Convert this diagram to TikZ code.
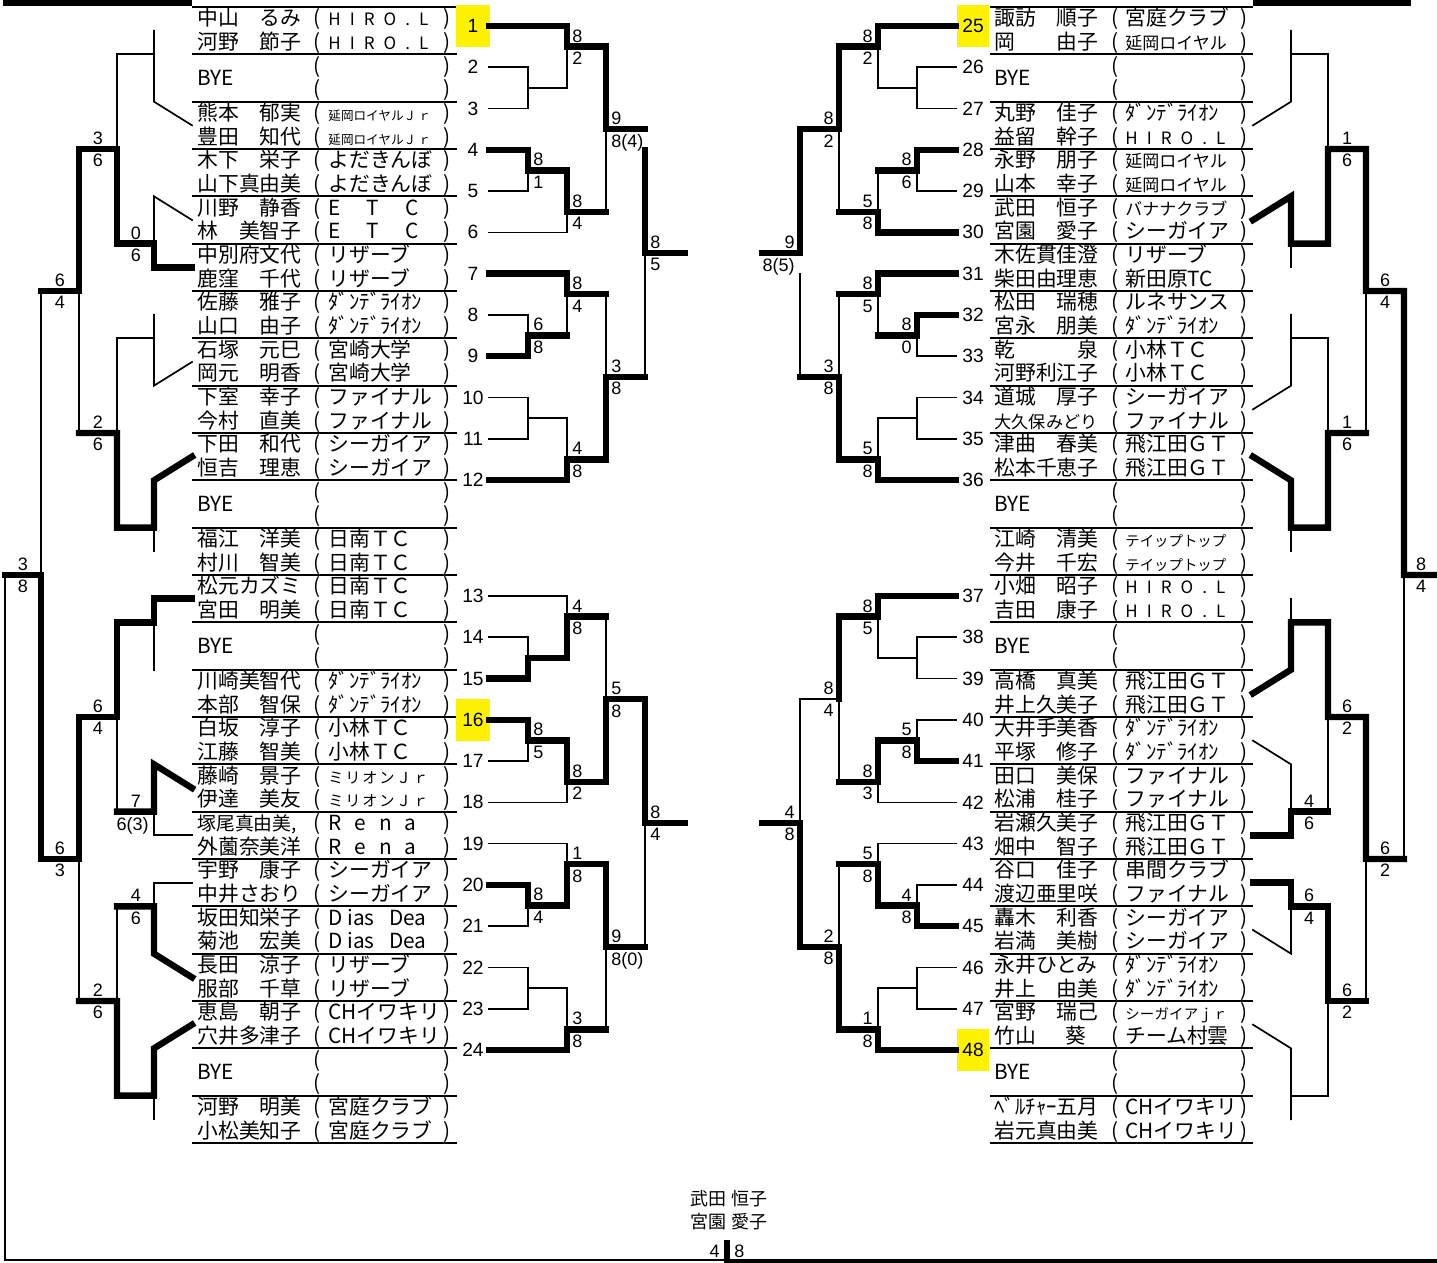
\documentclass[tikz,border=0pt]{standalone}
\usepackage{fontspec}
\setmainfont{Liberation Sans}
\newfontfamily\jp{Noto Sans CJK JP}
\newcounter{scn}
% team names that are spread or set small
\newcommand\tmspread[2]{\makebox[#1][s]{#2}}
\newcommand\tmhiro{{\fontsize{8.5}{9}\selectfont\tmspread{50pt}{H\hfill I\hfill R\hfill O\hfill .\hfill L}}}
\newcommand\tmetc{\tmspread{45pt}{E\hfill T\hfill C}}
\newcommand\tmrena{\tmspread{44pt}{R\hfill e\hfill n\hfill a}}
\newcommand\tmdias{\tmspread{49pt}{D ias\hfill Dea}}
\newcommand\tmjr{{\fontsize{6.3}{7}\selectfont 延岡ロイヤルＪ\,ｒ}}
\newcommand\tmmil{{\fontsize{7.6}{8}\selectfont\tmspread{50pt}{ミ\hfill リ\hfill オ\hfill ン\hfill Ｊ\hfill ｒ}}}
\newcommand\tmnob{{\fontsize{8.5}{9}\selectfont 延岡ロイヤル}}
\newcommand\tmbnn{{\fontsize{8.5}{9}\selectfont バナナクラブ}}
\newcommand\tmtip{{\fontsize{7.2}{8}\selectfont テイップトップ}}
\newcommand\tmsgj{{\fontsize{7.2}{8}\selectfont\tmspread{51pt}{シ\hfill ー\hfill ガ\hfill イ\hfill ア\hfill ｊ\hfill ｒ}}}
\newcommand\tmdan{ﾀﾞﾝﾃﾞﾗｲｵﾝ}
\tikzset{
  tn/.style={line width=0.85pt, line cap=rect},
  tk/.style={line width=3.2pt, line cap=rect, line join=miter},
  ul/.style={line width=1pt},
  nm/.style={anchor=base west, inner sep=0pt, font=\jp\fontsize{10.4}{12}\selectfont},
  pr/.style={nm},
  fin/.style={nm, anchor=base, font=\jp\fontsize{9}{10}\selectfont},
  num/.style={inner sep=0pt, font=\fontsize{9.6}{11}\selectfont},
  sc/.style={inner xsep=1pt, inner ysep=1pt, font=\fontsize{9}{10}\selectfont},
  yel/.style={fill=yellow},
}
% scores: right of a line, left of a line, centred
\newcommand\scoreW[4]{\stepcounter{scn}%
  \node[sc,anchor=south west] (s\thescn t) at (#1+3,{#2-2}) {#3};%
  \node[sc,anchor=north west] (s\thescn b) at (#1+3,{#2+3}) {#4};}
\newcommand\scoreE[4]{\stepcounter{scn}%
  \node[sc,anchor=south east] (s\thescn t) at (#1-3,{#2-2}) {#3};%
  \node[sc,anchor=north east] (s\thescn b) at (#1-3,{#2+3}) {#4};}
\newcommand\scoreC[4]{\stepcounter{scn}%
  \node[sc,anchor=south] (s\thescn t) at (#1,{#2-2}) {#3};%
  \node[sc,anchor=north] (s\thescn b) at (#1,{#2+3}) {#4};}

\begin{document}
\begin{tikzpicture}[x=0.5pt, y=-0.5pt,
  declare function={ent(\k)=7+47.333*(\k-1); cj(\j)=7+23.667*\j;
    ua(\k)=26+20.636*\k; lb(\k)=596+20.636*\k;
    numy(\i)=(\i<13) ? 26+41.273*(\i-1) : 596+41.273*(\i-13);}]
  \useasboundingbox (0,0) rectangle (1437,1263);
  \fill (3,0) rectangle (192,6.5);
  \fill (1253,0) rectangle (1411,6.5);

  % entry rows
  \draw[ul] (192,7) -- (457,7);
  \draw[ul] (990,7) -- (1253,7);
  \foreach \k in {1,...,24}{
    \draw[ul] (192,{ent(\k)+47.333}) -- (457,{ent(\k)+47.333});
    \draw[ul] (990,{ent(\k)+47.333}) -- (1253,{ent(\k)+47.333});
    \foreach \d/\s in {19/a,42.5/b}{
      \node[pr] (pla\k\s) at (313,{ent(\k)+\d}) {(};
      \node[pr] (plb\k\s) at (443,{ent(\k)+\d}) {)};
      \node[pr] (pra\k\s) at (1111,{ent(\k)+\d}) {(};
      \node[pr] (prb\k\s) at (1240,{ent(\k)+\d}) {)};
    }
  }
  \foreach \k in {2,11,14,23}{
    \node[nm] (byl\k) at (197,{ent(\k)+31}) {BYE};
    \node[nm] (byr\k) at (994,{ent(\k)+31}) {BYE};
  }
  \foreach \k/\na/\ta/\nb/\tb in {1/中山　るみ/\tmhiro/河野　節子/\tmhiro,
    3/熊本　郁実/\tmjr/豊田　知代/\tmjr,
    4/木下　栄子/よだきんぼ/山下真由美/よだきんぼ,
    5/川野　静香/\tmetc/林　美智子/\tmetc,
    6/中別府文代/リザーブ/鹿窪　千代/リザーブ,
    7/佐藤　雅子/\tmdan/山口　由子/\tmdan,
    8/石塚　元巳/宮崎大学/岡元　明香/宮崎大学,
    9/下室　幸子/ファイナル/今村　直美/ファイナル,
    10/下田　和代/シーガイア/恒吉　理恵/シーガイア,
    12/福江　洋美/日南ＴＣ/村川　智美/日南ＴＣ,
    13/松元カズミ/日南ＴＣ/宮田　明美/日南ＴＣ,
    15/川崎美智代/\tmdan/本部　智保/\tmdan,
    16/白坂　淳子/小林ＴＣ/江藤　智美/小林ＴＣ,
    17/藤崎　景子/\tmmil/伊達　美友/\tmmil,
    18/{\fontsize{9.4}{10}\selectfont 塚尾真由美,}/\tmrena/外薗奈美洋/\tmrena,
    19/宇野　康子/シーガイア/中井さおり/シーガイア,
    20/坂田知栄子/\tmdias/菊池　宏美/\tmdias,
    21/長田　涼子/リザーブ/服部　千草/リザーブ,
    22/恵島　朝子/CHイワキリ/穴井多津子/CHイワキリ,
    24/河野　明美/宮庭クラブ/小松美知子/宮庭クラブ}{
    \node[nm] (nl\k a) at (197,{ent(\k)+19}) {\na};
    \node[nm] (tl\k a) at (328,{ent(\k)+19}) {\ta};
    \node[nm] (nl\k b) at (197,{ent(\k)+42.5}) {\nb};
    \node[nm] (tl\k b) at (328,{ent(\k)+42.5}) {\tb};
  }
  \foreach \k/\na/\ta/\nb/\tb in {1/諏訪　順子/宮庭クラブ/岡　　由子/\tmnob,
    3/丸野　佳子/\tmdan/益留　幹子/\tmhiro,
    4/永野　朋子/\tmnob/山本　幸子/\tmnob,
    5/武田　恒子/\tmbnn/宮園　愛子/シーガイア,
    6/木佐貫佳澄/リザーブ/柴田由理恵/新田原TC,
    7/松田　瑞穂/ルネサンス/宮永　朋美/\tmdan,
    8/乾　　　泉/小林ＴＣ/河野利江子/小林ＴＣ,
    9/道城　厚子/シーガイア/{\fontsize{8.6}{9}\selectfont 大久保みどり}/ファイナル,
    10/津曲　春美/飛江田ＧＴ/松本千恵子/飛江田ＧＴ,
    12/江崎　清美/\tmtip/今井　千宏/\tmtip,
    13/小畑　昭子/\tmhiro/吉田　康子/\tmhiro,
    15/高橋　真美/飛江田ＧＴ/井上久美子/飛江田ＧＴ,
    16/大井手美香/\tmdan/平塚　修子/\tmdan,
    17/田口　美保/ファイナル/松浦　桂子/ファイナル,
    18/岩瀬久美子/飛江田ＧＴ/畑中　智子/飛江田ＧＴ,
    19/谷口　佳子/串間クラブ/渡辺亜里咲/ファイナル,
    20/轟木　利香/シーガイア/岩満　美樹/シーガイア,
    21/永井ひとみ/\tmdan/井上　由美/\tmdan,
    22/宮野　瑞己/\tmsgj/竹山\hspace{1.4em}葵/チーム村雲,
    24/ﾍﾞﾙﾁｬｰ五月/CHイワキリ/岩元真由美/CHイワキリ}{
    \node[nm] (nr\k a) at (994,{ent(\k)+19}) {\na};
    \node[nm] (tr\k a) at (1125,{ent(\k)+19}) {\ta};
    \node[nm] (nr\k b) at (994,{ent(\k)+42.5}) {\nb};
    \node[nm] (tr\k b) at (1125,{ent(\k)+42.5}) {\tb};
  }

  % draw numbers
  \fill[yel] (456,{numy(1)-21}) rectangle (490,{numy(1)+21});
  \fill[yel] (456,{numy(16)-21}) rectangle (490,{numy(16)+21});
  \fill[yel] (957,{numy(1)-21}) rectangle (989,{numy(1)+21});
  \fill[yel] (957,{numy(24)-21}) rectangle (989,{numy(24)+21});
  \foreach \i in {1,...,24}{
    \pgfmathtruncatemacro\r{\i+24}
    \node[num] (dl\i) at (473,{numy(\i)}) {\i};
    \node[num] (dr\i) at (973,{numy(\i)}) {\r};
  }

  % main draw, left
  \draw[tk] (489,{ua(0)}) -- (567,{ua(0)}) -- (567,{ua(1)}) -- (606,{ua(1)}) -- (606,{ua(5)}) -- (645,{ua(5)});
  \draw[tn] (489,{ua(2)}) -- (528,{ua(2)}) -- (528,{ua(4)}) -- (489,{ua(4)});
  \draw[tn] (528,{ua(3)}) -- (567,{ua(3)}) -- (567,{ua(1)});
  \draw[tk] (489,{ua(6)}) -- (528,{ua(6)}) -- (528,{ua(7)}) -- (567,{ua(7)}) -- (567,{ua(9)}) -- (606,{ua(9)});
  \draw[tn] (489,{ua(8)}) -- (528,{ua(8)}) -- (528,{ua(7)});
  \draw[tn] (489,{ua(10)}) -- (567,{ua(10)}) -- (567,{ua(9)});
  \draw[tn] (606,{ua(5)}) -- (606,{ua(9)});
  \draw[tk] (645,{ua(6)}) -- (645,{ua(11)}) -- (685,{ua(11)});
  \draw[tn] (645,{ua(11)}) -- (645,{ua(17)});
  \draw[tk] (489,{ua(12)}) -- (567,{ua(12)}) -- (567,{ua(13)}) -- (606,{ua(13)});
  \draw[tn] (489,{ua(14)}) -- (528,{ua(14)}) -- (528,{ua(15)});
  \draw[tk] (489,{ua(16)}) -- (528,{ua(16)}) -- (528,{ua(15)}) -- (567,{ua(15)});
  \draw[tn] (567,{ua(15)}) -- (567,{ua(13)});
  \draw[tn] (606,{ua(13)}) -- (606,{ua(17)});
  \draw[tk] (645,{ua(17)}) -- (606,{ua(17)}) -- (606,{ua(21)}) -- (567,{ua(21)}) -- (567,{ua(22)}) -- (489,{ua(22)});
  \draw[tn] (489,{ua(18)}) -- (528,{ua(18)}) -- (528,{ua(20)}) -- (489,{ua(20)});
  \draw[tn] (528,{ua(19)}) -- (567,{ua(19)}) -- (567,{ua(21)});
  \draw[tn] (489,{lb(0)}) -- (567,{lb(0)}) -- (567,{lb(1)});
  \draw[tn] (489,{lb(2)}) -- (528,{lb(2)}) -- (528,{lb(3)});
  \draw[tk] (489,{lb(4)}) -- (528,{lb(4)}) -- (528,{lb(3)}) -- (567,{lb(3)}) -- (567,{lb(1)}) -- (606,{lb(1)});
  \draw[tn] (606,{lb(1)}) -- (606,{lb(5)});
  \draw[tk] (489,{lb(6)}) -- (528,{lb(6)}) -- (528,{lb(7)}) -- (567,{lb(7)}) -- (567,{lb(9)}) -- (606,{lb(9)}) -- (606,{lb(5)}) -- (645,{lb(5)}) -- (645,{lb(11)}) -- (685,{lb(11)});
  \draw[tn] (489,{lb(8)}) -- (528,{lb(8)}) -- (528,{lb(7)});
  \draw[tn] (489,{lb(10)}) -- (567,{lb(10)}) -- (567,{lb(9)});
  \draw[tn] (645,{lb(11)}) -- (645,{lb(17)});
  \draw[tk] (645,{lb(17)}) -- (606,{lb(17)}) -- (606,{lb(13)}) -- (567,{lb(13)}) -- (567,{lb(15)}) -- (528,{lb(15)}) -- (528,{lb(14)}) -- (489,{lb(14)});
  \draw[tn] (489,{lb(12)}) -- (567,{lb(12)}) -- (567,{lb(13)});
  \draw[tn] (489,{lb(16)}) -- (528,{lb(16)}) -- (528,{lb(15)});
  \draw[tn] (606,{lb(17)}) -- (606,{lb(21)});
  \draw[tk] (606,{lb(21)}) -- (567,{lb(21)}) -- (567,{lb(22)}) -- (489,{lb(22)});
  \draw[tn] (489,{lb(18)}) -- (528,{lb(18)}) -- (528,{lb(20)}) -- (489,{lb(20)});
  \draw[tn] (528,{lb(19)}) -- (567,{lb(19)}) -- (567,{lb(21)});

  % main draw, right
  \draw[tk] (956,{ua(0)}) -- (878,{ua(0)}) -- (878,{ua(1)}) -- (839,{ua(1)}) -- (839,{ua(5)}) -- (800,{ua(5)}) -- (800,{ua(11)}) -- (762,{ua(11)});
  \draw[tn] (956,{ua(2)}) -- (917,{ua(2)}) -- (917,{ua(4)}) -- (956,{ua(4)});
  \draw[tn] (917,{ua(3)}) -- (878,{ua(3)}) -- (878,{ua(1)});
  \draw[tn] (839,{ua(5)}) -- (839,{ua(9)});
  \draw[tk] (956,{ua(6)}) -- (917,{ua(6)}) -- (917,{ua(7)}) -- (878,{ua(7)});
  \draw[tn] (956,{ua(8)}) -- (917,{ua(8)}) -- (917,{ua(7)});
  \draw[tn] (878,{ua(7)}) -- (878,{ua(9)});
  \draw[tk] (839,{ua(9)}) -- (878,{ua(9)}) -- (878,{ua(10)}) -- (956,{ua(10)});
  \draw[tn] (800,{ua(12)}) -- (800,{ua(17)});
  \draw[tk] (956,{ua(12)}) -- (878,{ua(12)}) -- (878,{ua(13)}) -- (839,{ua(13)});
  \draw[tk] (956,{ua(14)}) -- (917,{ua(14)}) -- (917,{ua(15)}) -- (878,{ua(15)});
  \draw[tn] (956,{ua(16)}) -- (917,{ua(16)}) -- (917,{ua(15)});
  \draw[tn] (878,{ua(15)}) -- (878,{ua(13)});
  \draw[tn] (839,{ua(13)}) -- (839,{ua(17)});
  \draw[tk] (800,{ua(17)}) -- (839,{ua(17)}) -- (839,{ua(21)}) -- (878,{ua(21)}) -- (878,{ua(22)}) -- (956,{ua(22)});
  \draw[tn] (956,{ua(18)}) -- (917,{ua(18)}) -- (917,{ua(20)}) -- (956,{ua(20)});
  \draw[tn] (917,{ua(19)}) -- (878,{ua(19)}) -- (878,{ua(21)});
  \draw[tk] (956,{lb(0)}) -- (878,{lb(0)}) -- (878,{lb(1)}) -- (839,{lb(1)}) -- (839,{lb(5)});
  \draw[tn] (956,{lb(2)}) -- (917,{lb(2)}) -- (917,{lb(4)}) -- (956,{lb(4)});
  \draw[tn] (917,{lb(3)}) -- (878,{lb(3)}) -- (878,{lb(1)});
  \draw[tn] (839,{lb(5)}) -- (800,{lb(5)}) -- (800,{lb(11)});
  \draw[tn] (839,{lb(5)}) -- (839,{lb(9)});
  \draw[tk] (839,{lb(9)}) -- (878,{lb(9)}) -- (878,{lb(7)}) -- (917,{lb(7)}) -- (917,{lb(8)}) -- (956,{lb(8)});
  \draw[tn] (956,{lb(6)}) -- (917,{lb(6)}) -- (917,{lb(7)});
  \draw[tn] (878,{lb(9)}) -- (878,{lb(10)}) -- (956,{lb(10)});
  \draw[tk] (762,{lb(11)}) -- (800,{lb(11)}) -- (800,{lb(17)}) -- (839,{lb(17)}) -- (839,{lb(21)}) -- (878,{lb(21)}) -- (878,{lb(22)}) -- (956,{lb(22)});
  \draw[tn] (839,{lb(17)}) -- (839,{lb(13)});
  \draw[tk] (839,{lb(13)}) -- (878,{lb(13)}) -- (878,{lb(15)}) -- (917,{lb(15)}) -- (917,{lb(16)}) -- (956,{lb(16)});
  \draw[tn] (956,{lb(12)}) -- (878,{lb(12)}) -- (878,{lb(13)});
  \draw[tn] (956,{lb(14)}) -- (917,{lb(14)}) -- (917,{lb(15)});
  \draw[tn] (956,{lb(18)}) -- (917,{lb(18)}) -- (917,{lb(20)}) -- (956,{lb(20)});
  \draw[tn] (917,{lb(19)}) -- (878,{lb(19)}) -- (878,{lb(21)});

  % consolation, left
  \draw[tn] (154,{cj(1)}) -- (154,{cj(4)}) -- (192,{cj(5)});
  \draw[tn] (154,{cj(2)}) -- (117,{cj(2)}) -- (117,{cj(6)});
  \draw[tk] (41,{cj(12)}) -- (79,{cj(12)}) -- (79,{cj(6)}) -- (117,{cj(6)}) -- (117,{cj(10)}) -- (154,{cj(10)}) -- (154,{cj(11)}) -- (192,{cj(11)});
  \draw[tn] (192,{cj(9)}) -- (154,{cj(8)}) -- (154,{cj(10)});
  \draw[tn] (41,{cj(12)}) -- (41,{cj(24)});
  \draw[tn] (154,{cj(13)}) -- (154,{cj(16)}) -- (192,{cj(15)});
  \draw[tn] (154,{cj(14)}) -- (117,{cj(14)}) -- (117,{cj(18)});
  \draw[tn] (79,{cj(12)}) -- (79,{cj(18)});
  \draw[tk] (79,{cj(18)}) -- (117,{cj(18)}) -- (117,{cj(22)}) -- (154,{cj(22)}) -- (154,{cj(20)}) -- (192,{cj(19)});
  \draw[tn] (154,{cj(22)}) -- (154,{cj(23)});
  \draw[tk] (5,{cj(24)}) -- (41,{cj(24)}) -- (41,{cj(36)}) -- (79,{cj(36)}) -- (79,{cj(30)}) -- (117,{cj(30)}) -- (117,{cj(26)}) -- (154,{cj(26)}) -- (154,{cj(25)}) -- (192,{cj(25)});
  \draw[tn] (154,{cj(26)}) -- (154,{cj(28)});
  \draw[tn] (117,{cj(30)}) -- (117,{cj(34)});
  \draw[tk] (117,{cj(34)}) -- (154,{cj(34)}) -- (154,{cj(32)}) -- (192,{cj(33)});
  \draw[tn] (154,{cj(34)}) -- (154,{cj(35)}) -- (192,{cj(35)});
  \draw[tn] (79,{cj(36)}) -- (79,{cj(42)});
  \draw[tk] (79,{cj(42)}) -- (117,{cj(42)}) -- (117,{cj(46)}) -- (154,{cj(46)}) -- (154,{cj(44)}) -- (192,{cj(43)});
  \draw[tn] (117,{cj(42)}) -- (117,{cj(38)});
  \draw[tk] (117,{cj(38)}) -- (154,{cj(38)}) -- (154,{cj(40)}) -- (192,{cj(41)});
  \draw[tn] (154,{cj(38)}) -- (154,{cj(37)}) -- (192,{cj(37)});
  \draw[tn] (154,{cj(46)}) -- (154,{cj(47)});

  % consolation, right
  \draw[tn] (1291,{cj(1)}) -- (1291,{cj(4)}) -- (1253,{cj(5)});
  \draw[tn] (1291,{cj(2)}) -- (1328,{cj(2)}) -- (1328,{cj(6)});
  \draw[tk] (1253,{cj(9)}) -- (1291,{cj(8)}) -- (1291,{cj(10)}) -- (1328,{cj(10)}) -- (1328,{cj(6)}) -- (1366,{cj(6)}) -- (1366,{cj(12)}) -- (1404,{cj(12)}) -- (1404,{cj(24)}) -- (1437,{cj(24)});
  \draw[tn] (1291,{cj(10)}) -- (1291,{cj(11)});
  \draw[tn] (1291,{cj(13)}) -- (1291,{cj(16)}) -- (1253,{cj(17)});
  \draw[tn] (1291,{cj(14)}) -- (1328,{cj(14)}) -- (1328,{cj(18)});
  \draw[tn] (1366,{cj(12)}) -- (1366,{cj(18)});
  \draw[tk] (1366,{cj(18)}) -- (1328,{cj(18)}) -- (1328,{cj(22)}) -- (1291,{cj(22)}) -- (1291,{cj(20)}) -- (1253,{cj(19)});
  \draw[tn] (1291,{cj(22)}) -- (1291,{cj(23)});
  \draw[tn] (1404,{cj(24)}) -- (1404,{cj(36)});
  \draw[tk] (1404,{cj(36)}) -- (1366,{cj(36)}) -- (1366,{cj(30)}) -- (1328,{cj(30)}) -- (1328,{cj(26)}) -- (1291,{cj(26)}) -- (1291,{cj(28)}) -- (1253,{cj(29)});
  \draw[tn] (1291,{cj(25)}) -- (1291,{cj(26)});
  \draw[tn] (1328,{cj(30)}) -- (1328,{cj(34)});
  \draw[tk] (1328,{cj(34)}) -- (1291,{cj(34)}) -- (1291,{cj(35)}) -- (1253,{cj(35)});
  \draw[tn] (1291,{cj(34)}) -- (1291,{cj(32)}) -- (1253,{cj(31)});
  \draw[tn] (1366,{cj(36)}) -- (1366,{cj(42)});
  \draw[tk] (1366,{cj(42)}) -- (1328,{cj(42)}) -- (1328,{cj(38)}) -- (1291,{cj(38)}) -- (1291,{cj(37)}) -- (1253,{cj(37)});
  \draw[tn] (1291,{cj(38)}) -- (1291,{cj(40)}) -- (1253,{cj(39)});
  \draw[tn] (1328,{cj(42)}) -- (1328,{cj(46)}) -- (1291,{cj(46)});
  \draw[tn] (1253,{cj(43)}) -- (1291,{cj(44)}) -- (1291,{cj(47)});

  % final
  \draw[tn] (5,{cj(24)}) -- (5,1260) -- (727,1260);
  \draw[line width=1.8pt] (727,1261) -- (1437,1261);
  \draw[tk, line cap=butt] (727,1240) -- (727,1263);
  \node[fin] (wa) at (729,1205) {武田 恒子};
  \node[fin] (wb) at (729,1228) {宮園 愛子};
  \node[sc, anchor=base east] (fl) at (722,1257) {4};
  \node[sc, anchor=base west] (fr) at (732,1257) {8};

  % scores
  \scoreW{567}{ua(1)}{8}{2}
  \scoreW{528}{ua(7)}{8}{1}
  \scoreW{567}{ua(9)}{8}{4}
  \scoreW{606}{ua(5)}{9}{8(4)}
  \scoreW{645}{ua(11)}{8}{5}
  \scoreW{567}{ua(13)}{8}{4}
  \scoreW{528}{ua(15)}{6}{8}
  \scoreW{606}{ua(17)}{3}{8}
  \scoreW{567}{ua(21)}{4}{8}
  \scoreW{567}{lb(1)}{4}{8}
  \scoreW{606}{lb(5)}{5}{8}
  \scoreW{528}{lb(7)}{8}{5}
  \scoreW{567}{lb(9)}{8}{2}
  \scoreW{645}{lb(11)}{8}{4}
  \scoreW{567}{lb(13)}{1}{8}
  \scoreW{528}{lb(15)}{8}{4}
  \scoreW{606}{lb(17)}{9}{8(0)}
  \scoreW{567}{lb(21)}{3}{8}
  \scoreE{878}{ua(1)}{8}{2}
  \scoreE{839}{ua(5)}{8}{2}
  \scoreE{917}{ua(7)}{8}{6}
  \scoreE{878}{ua(9)}{5}{8}
  \scoreE{800}{ua(11)}{9}{8(5)}
  \scoreE{878}{ua(13)}{8}{5}
  \scoreE{917}{ua(15)}{8}{0}
  \scoreE{839}{ua(17)}{3}{8}
  \scoreE{878}{ua(21)}{5}{8}
  \scoreE{878}{lb(1)}{8}{5}
  \scoreE{839}{lb(5)}{8}{4}
  \scoreE{917}{lb(7)}{5}{8}
  \scoreE{878}{lb(9)}{8}{3}
  \scoreE{800}{lb(11)}{4}{8}
  \scoreE{878}{lb(13)}{5}{8}
  \scoreE{917}{lb(15)}{4}{8}
  \scoreE{839}{lb(17)}{2}{8}
  \scoreE{878}{lb(21)}{1}{8}
  \scoreC{98}{cj(6)}{3}{6}
  \scoreC{136}{cj(10)}{0}{6}
  \scoreC{60}{cj(12)}{6}{4}
  \scoreC{98}{cj(18)}{2}{6}
  \scoreC{23}{cj(24)}{3}{8}
  \scoreC{60}{cj(36)}{6}{3}
  \scoreC{98}{cj(30)}{6}{4}
  \scoreC{98}{cj(42)}{2}{6}
  \scoreC{136}{cj(38)}{4}{6}
  \node[sc, anchor=south] (s7t) at (136,{cj(34)-2}) {7};
  \node[sc, anchor=north east] (s7b) at (151,{cj(34)+3}) {6(3)};
  \scoreC{1347}{cj(6)}{1}{6}
  \scoreC{1385}{cj(12)}{6}{4}
  \scoreC{1347}{cj(18)}{1}{6}
  \scoreC{1421}{cj(24)}{8}{4}
  \scoreC{1385}{cj(36)}{6}{2}
  \scoreC{1347}{cj(30)}{6}{2}
  \scoreC{1309}{cj(34)}{4}{6}
  \scoreC{1347}{cj(42)}{6}{2}
  \scoreC{1309}{cj(38)}{6}{4}
\end{tikzpicture}
\end{document}
